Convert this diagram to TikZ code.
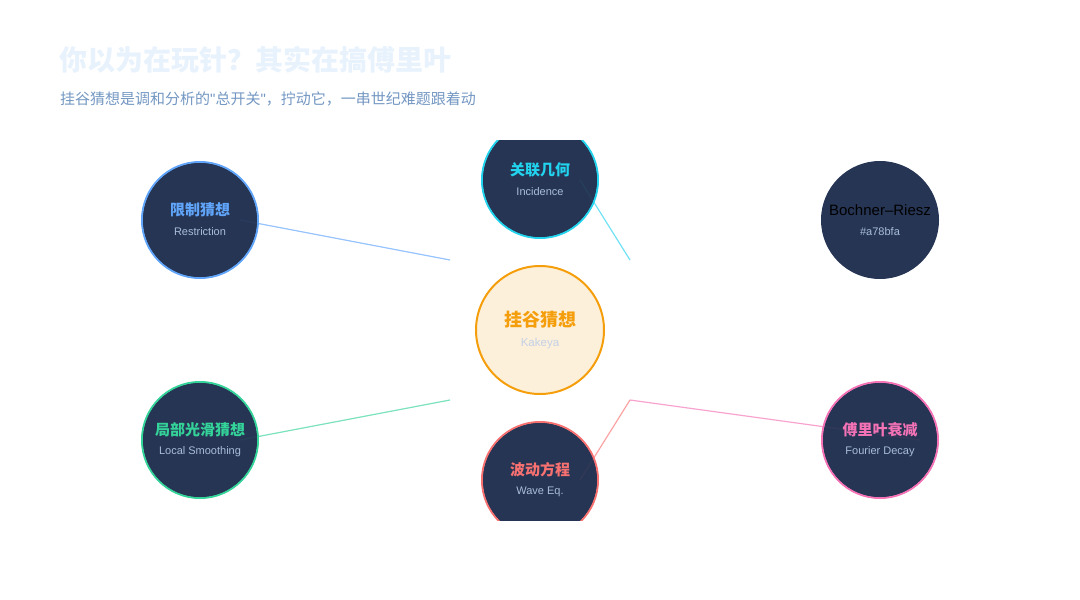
\documentclass[tikz,border=0pt]{standalone}
\usepackage{fontspec}
\setmainfont{Noto Sans CJK SC}
\newfontfamily\latinfont{Liberation Sans}
\definecolor{navy}{HTML}{263554}
\definecolor{cblue}{HTML}{60A5FA}
\definecolor{ccyan}{HTML}{22D3EE}
\definecolor{cgreen}{HTML}{34D399}
\definecolor{cred}{HTML}{F87171}
\definecolor{cpink}{HTML}{F472B6}
\definecolor{corange}{HTML}{F59E0B}
\definecolor{cream}{HTML}{FDF0DB}
\definecolor{sublabel}{HTML}{A9BCDB}
\definecolor{titlecol}{HTML}{E8F2FD}
\definecolor{subtitlecol}{HTML}{7397C2}
\tikzset{
  sat/.style={circle, minimum size=116pt, inner sep=0pt, fill=navy, draw=#1, line width=2pt},
  hub/.style={circle, minimum size=128pt, inner sep=0pt, fill=cream, draw=corange, line width=2pt},
  zh/.style={font=\fontsize{15}{15}\selectfont\bfseries, text=#1, inner sep=0pt},
  en/.style={font=\latinfont\fontsize{11}{11}\selectfont, text=sublabel, inner sep=0pt},
  link/.style={draw=#1, line width=1.2pt, opacity=0.65},
}
\begin{document}
\begin{tikzpicture}[x=1pt,y=-1pt]
\useasboundingbox (0,0) rectangle (1080,600);
\node[anchor=west, inner sep=0pt, text=titlecol, font=\fontsize{28}{28}\selectfont\bfseries] (title) at (59,60) {你以为在玩针？其实在搞傅里叶};
\node[anchor=west, inner sep=0pt, text=subtitlecol, font=\fontsize{15}{15}\selectfont] (subtitle) at (60,99) {挂谷猜想是调和分析的{\latinfont"}总开关{\latinfont"}，拧动它，一串世纪难题跟着动};
\begin{scope}
\clip (0,140) rectangle (1080,520);
\coordinate (e1) at (450,260);
\coordinate (e2) at (630,260);
\coordinate (e3) at (450,400);
\coordinate (e4) at (630,400);
\node[sat=cblue] (res) at (200,220) {};
\node[sat=ccyan] (inc) at (540,180) {};
\node[sat=navy] (br) at (880,220) {};
\node[sat=cgreen] (loc) at (200,440) {};
\node[sat=cred] (wav) at (540,480) {};
\node[sat=cpink] (fou) at (880,440) {};
\node[hub] (kak) at (540,330) {};
\draw[link=cblue] ([xshift=40pt]res.center) -- (e1);
\draw[link=ccyan] ([xshift=40pt]inc.center) -- (e2);
\draw[link=cgreen] ([xshift=40pt]loc.center) -- (e3);
\draw[link=cred] ([xshift=40pt]wav.center) -- (e4);
\draw[link=cpink] ([xshift=40pt]fou.center) -- (e4);
\foreach \n in {res,inc,loc,wav,fou}{
  \fill[navy, opacity=0.9] (\n.center) circle (57pt);
}
\node[zh=cblue] (resz) at (200,210) {限制猜想};
\node[en] (rese) at (200,232) {Restriction};
\node[zh=ccyan] (incz) at (540,170) {关联几何};
\node[en] (ince) at (540,192) {Incidence};
\node[inner sep=0pt, text=black, font=\latinfont\fontsize{15}{15}\selectfont] (brz) at (880,210) {Bochner–Riesz};
\node[en] (bre) at (880,232) {\#a78bfa};
\node[zh=cgreen] (locz) at (200,430) {局部光滑猜想};
\node[en] (loce) at (200,452) {Local Smoothing};
\node[zh=cred] (wavz) at (540,470) {波动方程};
\node[en] (wave) at (540,492) {Wave Eq.};
\node[zh=cpink] (fouz) at (880,430) {傅里叶衰减};
\node[en] (foue) at (880,452) {Fourier Decay};
\node[inner sep=0pt, text=corange, font=\fontsize{18}{18}\selectfont\bfseries] (kakz) at (540,320) {挂谷猜想};
\node[inner sep=0pt, text=sublabel!70!white, font=\latinfont\fontsize{11.5}{11.5}\selectfont] (kake) at (540,344) {Kakeya};
\end{scope}
\end{tikzpicture}
\end{document}
